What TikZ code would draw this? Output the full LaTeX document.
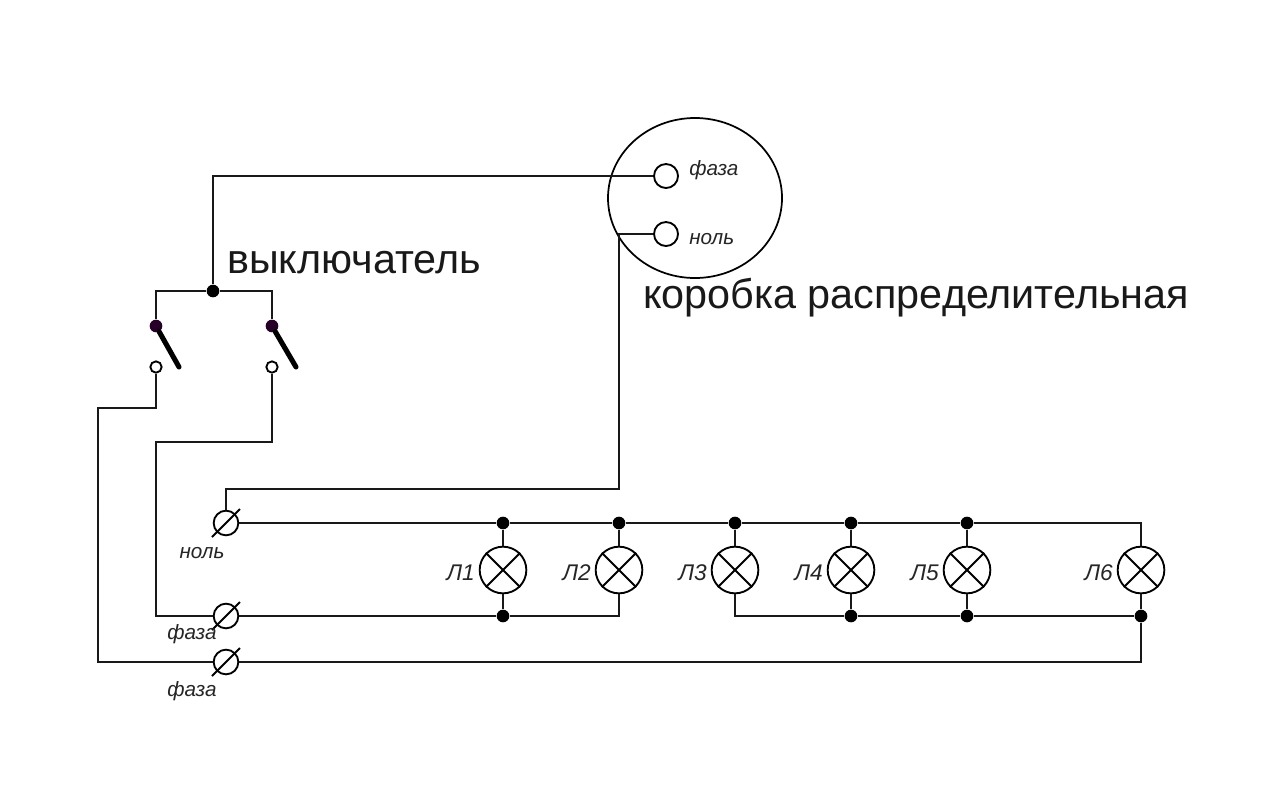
\documentclass[tikz,border=0pt]{standalone}
\usepackage{fontspec}
\usetikzlibrary{shapes.geometric}
\setmainfont{Liberation Sans}
\begin{document}
\begin{tikzpicture}[x=0.75pt,y=-0.75pt,
  wire/.style={draw=black!90,line width=1.5pt},
  dotj/.style={circle,fill=black,draw=none,minimum size=9.5pt,inner sep=0pt},
  pivot/.style={circle,fill=black!70!violet,draw=none,minimum size=9.5pt,inner sep=0pt},
  contact/.style={circle,fill=white,draw=black,line width=1.4pt,minimum size=8.5pt,inner sep=0pt},
  lampc/.style={circle,draw=black,line width=1.4pt,minimum size=35pt,inner sep=0pt},
  term/.style={circle,draw=black,line width=1.4pt,minimum size=18.5pt,inner sep=0pt},
  port/.style={circle,draw=black,line width=1.4pt,minimum size=18pt,inner sep=0pt},
  lever/.style={line width=3.8pt,line cap=round},
  small/.style={font=\itshape\fontsize{15.5}{15.5}\selectfont,inner sep=0pt,text=black!85},
  big/.style={font=\fontsize{31}{31}\selectfont,inner sep=0pt,anchor=west,text=black!90}]
\useasboundingbox (0,0) rectangle (1280,801);
\fill[white] (0,0) rectangle (1280,801);
% distribution box
\node[draw=black,line width=1.3pt,ellipse,minimum width=130.5pt,minimum height=120pt,inner sep=0pt] (box) at (695,198) {};
\node[port] (pf) at (666,176) {};
\node[port] (pn) at (666,234) {};
\node[small,anchor=west] (tf) at (689,170) {фаза};
\node[small,anchor=west] (tn) at (689,239) {ноль};
% switch
\node[dotj] (top) at (213,291) {};
\coordinate (ltop) at (156,291);
\coordinate (rtop) at (272,291);
\node[pivot] (p1) at (156,326) {};
\node[pivot] (p2) at (272,326) {};
\node[contact] (c1) at (156,367) {};
\node[contact] (c2) at (272,367) {};
\coordinate (l1) at (179,367);
\coordinate (l2) at (296,367);
\draw[lever] (p1) -- (l1);
\draw[lever] (p2) -- (l2);
% terminals
\node[term] (t0) at (226,523) {};
\node[term] (t1) at (226,616) {};
\node[term] (t2) at (226,662) {};
\foreach \t in {t0,t1,t2} \draw[line width=1.4pt] ([shift={(-14,14)}]\t.center) -- ([shift={(14,-14)}]\t.center);
% lamps
\foreach \n/\x/\lab in {1/503/Л1,2/619/Л2,3/735/Л3,4/851/Л4,5/967/Л5,6/1141/Л6}{
  \node[lampc] (L\n) at (\x,570) {};
  \draw[line width=1.4pt] (L\n.north west) -- (L\n.south east) (L\n.north east) -- (L\n.south west);
  \node[small,font=\itshape\fontsize{17}{17}\selectfont,anchor=east] (lab\n) at (\x-28,573) {\lab};
}
\foreach \n/\x in {1/503,2/619,3/735,4/851,5/967}
  \node[dotj] (a\n) at (\x,523) {};
\coordinate (a6) at (1141,523);
\foreach \n/\x in {1/503,4/851,5/967,6/1141}
  \node[dotj] (b\n) at (\x,616) {};
\coordinate (b2) at (619,616);
\coordinate (b3) at (735,616);
\coordinate (g6) at (1141,662);
% wires
\draw[wire] (pf) -- (213,176) -- (top);
\draw[wire] (p1) -- (ltop) -- (top) -- (rtop) -- (p2);
\draw[wire] (c1) -- (156,408) -- (98,408) -- (98,662) -- (t2);
\draw[wire] (c2) -- (272,442) -- (156,442) -- (156,616) -- (t1);
\draw[wire] (pn) -- (619,234) -- (619,489) -- (226,489) -- (t0);
\draw[wire] (t0) -- (a1) -- (a2) -- (a3) -- (a4) -- (a5) -- (a6) -- (L6);
\draw[wire] (t1) -- (b1) -- (b2) -- (L2);
\draw[wire] (L3) -- (b3) -- (b4) -- (b5) -- (b6) -- (g6) -- (t2);
\draw[wire] (L6) -- (b6);
\foreach \n in {1,2,3,4,5} \draw[wire] (a\n) -- (L\n);
\foreach \n in {1,4,5} \draw[wire] (L\n) -- (b\n);
% labels
\node[small] (n0) at (202,553) {ноль};
\node[small] (n1) at (192,634) {фаза};
\node[small] (n2) at (192,691) {фаза};
\node[big] (sw) at (227,263) {выключатель};
\node[big] (kor) at (643,298) {коробка распределительная};
\end{tikzpicture}
\end{document}
